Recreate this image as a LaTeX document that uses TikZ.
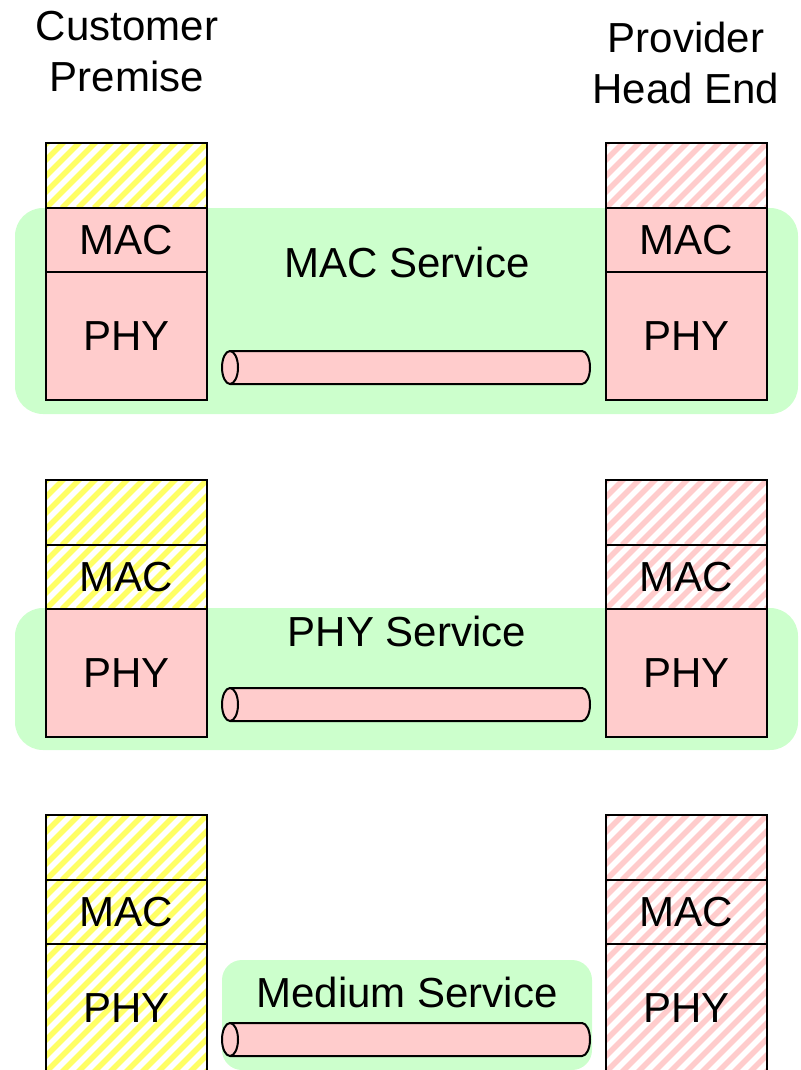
\documentclass[tikz,border=0pt]{standalone}
\usepackage{fontspec}
\setmainfont{Liberation Sans}
\usepackage{tikz}
\usetikzlibrary{positioning}
\usepackage{xcolor}
\definecolor{layerpink}{RGB}{255,204,204}
\definecolor{bandgreen}{RGB}{204,255,204}
\definecolor{hatchyellow}{RGB}{255,255,100}

\tikzset{
  every node/.style={font=\fontsize{42}{51}\selectfont},
  layer/.style={draw, line width=2pt, minimum width=161pt, inner sep=0pt, outer sep=0pt},
  topbox/.style={layer, minimum height=65pt},
  macbox/.style={layer, minimum height=64pt},
  phybox/.style={layer, minimum height=128pt},
  solidpink/.style={fill=layerpink},
  hatched/.style={fill=white, path picture={
      \foreach \k in {-272,-256,...,200}
        \draw[#1, line width=5.5pt]
          ([xshift=\k pt]path picture bounding box.south west) -- ++(280pt,280pt);
    }},
  hatchyel/.style={hatched=hatchyellow},
  hatchpink/.style={hatched=layerpink},
  band/.style={fill=bandgreen, rounded corners=#1},
  pipebody/.style={draw, line width=2pt, fill=layerpink, line join=round}
}

\begin{document}
\begin{tikzpicture}[x=1pt, y=-1pt]
\useasboundingbox (0,0) rectangle (800,1070);

% service bands behind the stacks
\path[band=28pt] (15,208) rectangle (798,414);
\path[band=28pt] (15,608) rectangle (798,750);
\path[band=20pt] (222,960) rectangle (592,1070);

\node[align=center] (cust) at (127,52) {Customer\\Premise};
\node[align=center] (prov) at (686,63) {Provider\\Head End};

% the three pairs of protocol stacks, each with its pipe
\foreach \s/\dy/\lmac/\lphy/\rmac/\rphy in {
    1/0/solidpink/solidpink/solidpink/solidpink,
    2/337/hatchyel/solidpink/hatchpink/solidpink,
    3/672/hatchyel/hatchyel/hatchpink/hatchpink} {
  \node[topbox, hatchyel] (L\s top) at (126.5,175.5+\dy) {};
  \node[macbox, \lmac, below=0pt of L\s top] (L\s mac) {MAC};
  \node[phybox, \lphy, below=0pt of L\s mac] (L\s phy) {PHY};
  \node[topbox, hatchpink] (R\s top) at (686.5,175.5+\dy) {};
  \node[macbox, \rmac, below=0pt of R\s top] (R\s mac) {MAC};
  \node[phybox, \rphy, below=0pt of R\s mac] (R\s phy) {PHY};
  \coordinate (pipe\s) at (406,367.5+\dy);
  \draw[pipebody] ([xshift=-176pt,yshift=16.5pt]pipe\s) -- ++(352pt,0pt)
    arc[start angle=90, end angle=-90, x radius=8pt, y radius=16.5pt]
    -- ++(-352pt,0pt) -- cycle;
  \draw[pipebody] ([xshift=-176pt]pipe\s) ellipse[x radius=8pt, y radius=16.5pt];
}

\node (macsvc) at (407,262) {MAC Service};
\node (physvc) at (407,631) {PHY Service};
\node (medsvc) at (407,992) {Medium Service};
\end{tikzpicture}
\end{document}
